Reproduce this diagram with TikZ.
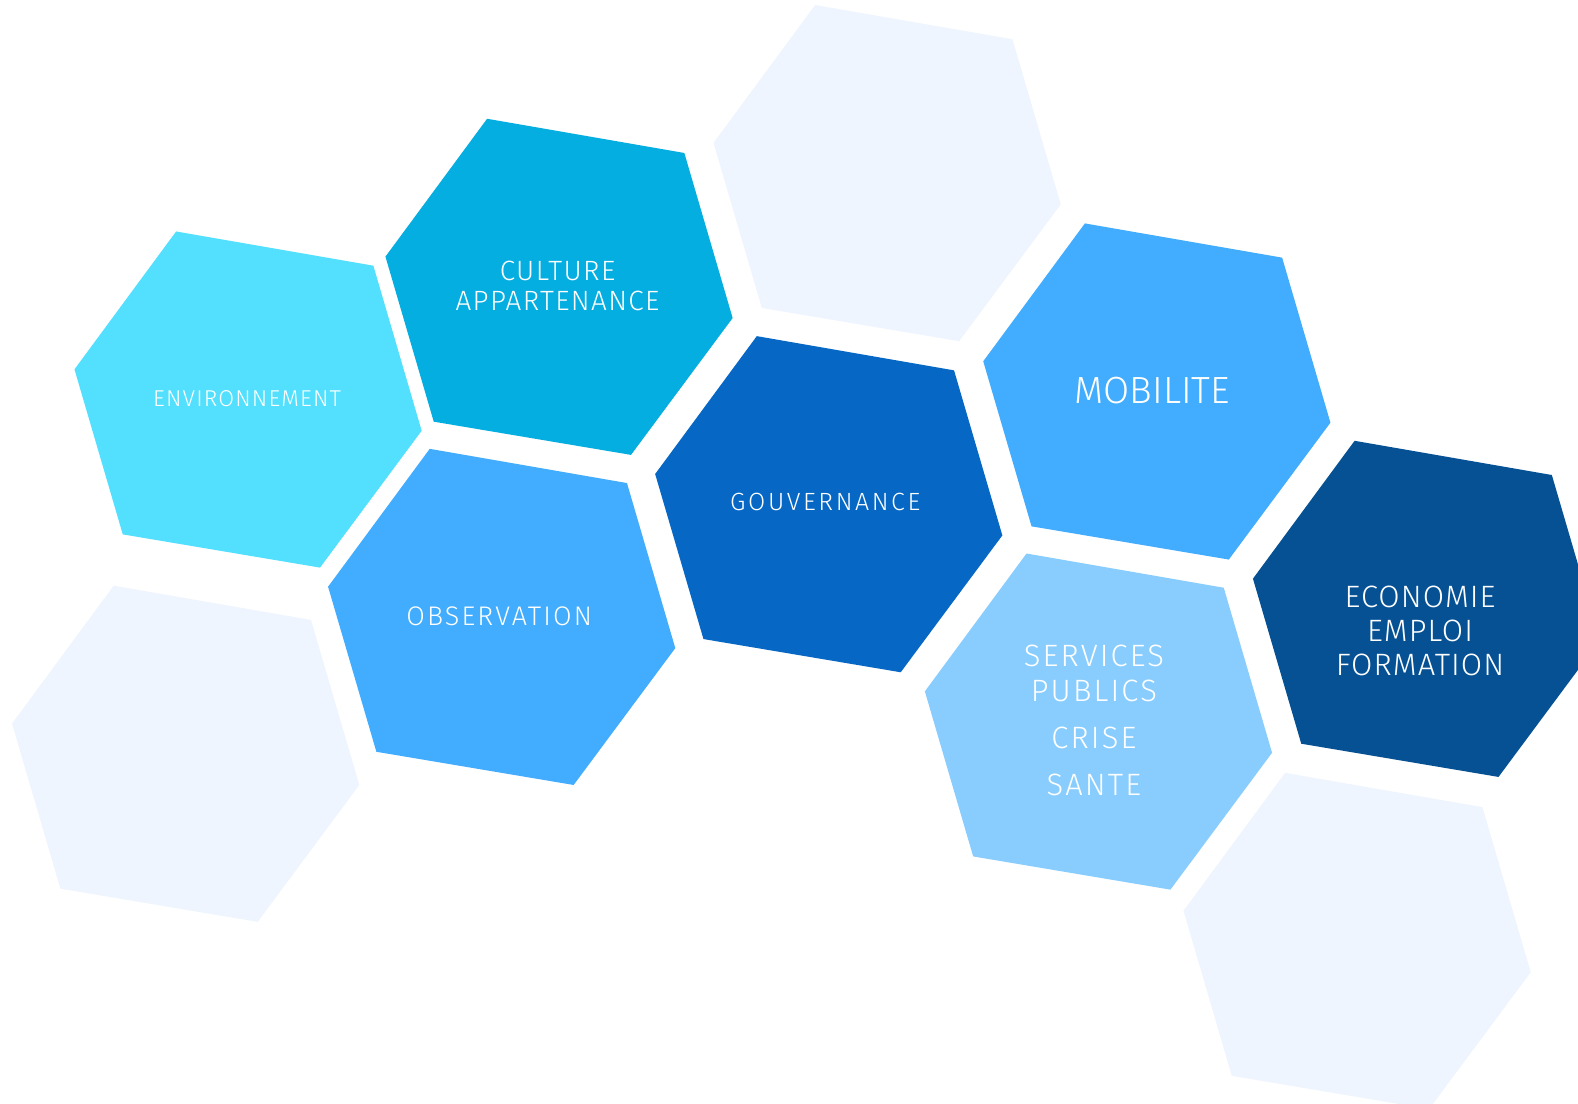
\documentclass[tikz,border=0pt]{standalone}
\usepackage{fontspec}
\setmainfont{Fira Sans Light}
\definecolor{ghost}{HTML}{EEF5FE}
\definecolor{cculture}{HTML}{05AEE0}
\definecolor{environ}{HTML}{52E0FE}
\definecolor{midblue}{HTML}{42ACFE}
\definecolor{gouv}{HTML}{0668C4}
\definecolor{econ}{HTML}{065194}
\definecolor{serv}{HTML}{88CDFE}
\newcommand{\hexcell}[3]{%
  \fill[#1] (#2,#3) -- ++(196,34) -- ++(48,164) -- ++(-101,136) -- ++(-196,-33) -- ++(-48,-164) -- cycle;}
\tikzset{
  lbl/.style={text=white, align=center, inner sep=0pt, anchor=center},
}
\newcommand{\fs}[3]{\fontsize{#1}{#2}\selectfont\addfontfeatures{LetterSpace=#3}}
\begin{document}
\begin{tikzpicture}[x=1bp,y=-1bp,scale=1.0064]
\useasboundingbox (0,0) rectangle (1568,1097);
\clip (0,0) rectangle (1568,1097);
\fill[white] (0,0) rectangle (1568,1097);
% ghost cells
\hexcell{ghost}{810}{5}
\hexcell{ghost}{113}{582}
\hexcell{ghost}{1277}{768}
% coloured cells
\hexcell{cculture}{484}{118}
\hexcell{environ}{175}{230}
\hexcell{midblue}{1078}{222}
\hexcell{gouv}{752}{334}
\hexcell{midblue}{427}{446}
\hexcell{econ}{1346}{438}
\hexcell{serv}{1020}{550}
% labels
\node[lbl, font=\fs{23}{26}{5}] (env) at (245.5,396) {ENVIRONNEMENT};
\node[lbl, font=\fs{28}{30}{5}] (cul) at (554,284) {CULTURE\\APPARTENANCE};
\node[lbl, font=\fs{38}{40}{0}] (mob) at (1145,388) {MOBILITE};
\node[lbl, font=\fs{25}{30}{10.5}] (gov) at (820,499) {GOUVERNANCE};
\node[lbl, font=\fs{27}{30}{8}] (obs) at (496,612) {OBSERVATION};
\node[lbl, font=\fs{31}{34.5}{7}] (ser) at (1087,716) {SERVICES\\PUBLICS\\[13pt]CRISE\\[13pt]SANTE};
\node[lbl, font=\fs{31}{34}{3.5}] (eco) at (1411,627) {ECONOMIE\\EMPLOI\\FORMATION};
\end{tikzpicture}
\end{document}
